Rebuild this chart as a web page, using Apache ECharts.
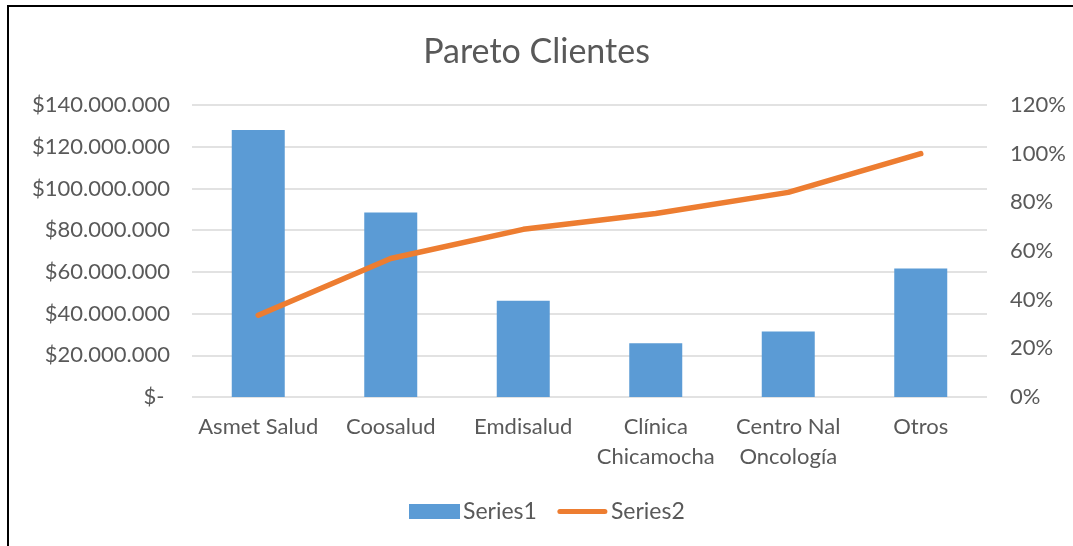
<!DOCTYPE html>
<html>
<head>
<meta charset="utf-8">
<script src="https://cdn.jsdelivr.net/npm/echarts@6/dist/echarts.min.js"></script>
<style>
html,body{margin:0;padding:0;background:#fff;}
#chart{width:1073px;height:546px;position:absolute;left:0;top:0;}
#frame{position:absolute;left:7px;top:5px;width:1080px;height:560px;border-top:2px solid #000;border-left:2px solid #000;pointer-events:none;}
</style>
</head>
<body>
<div id="chart"></div>
<div id="frame"></div>
<script>
var categories = ['Asmet Salud', 'Coosalud', 'Emdisalud', 'Clínica\nChicamocha', 'Centro Nal\nOncología', 'Otros'];
var series1 = [128000000, 88500000, 46100000, 25800000, 31400000, 61600000];
var series2 = [0.336, 0.569, 0.689, 0.754, 0.841, 1.0];
var leftTicks = {min: 0, max: 140000000, interval: 20000000};
var rightTicks = {min: 0, max: 1.2, interval: 0.2};

var FONT = 'Lato';
var TXT = '#595959';

function money(v) {
  if (v === 0) return '$- ';
  return '$' + String(Math.round(v)).replace(/\B(?=(\d{3})+(?!\d))/g, '.');
}

var chart = echarts.init(document.getElementById('chart'), null, {renderer: 'canvas'});
chart.setOption({
  animation: false,
  backgroundColor: '#fff',
  textStyle: {fontFamily: FONT, color: TXT},
  title: {
    text: 'Pareto Clientes',
    left: 'center',
    top: 30,
    textStyle: {fontFamily: FONT, fontSize: 34, fontWeight: 'normal', color: TXT}
  },
  legend: {
    top: 495,
    left: 404,
    itemWidth: 51,
    itemHeight: 15,
    itemGap: 20,
    textStyle: {fontFamily: FONT, fontSize: 23, color: TXT, padding: [0, 0, 0, -2]},
    data: [
      {name: 'Series1', icon: 'rect'},
      {name: 'Series2',
       icon: 'path://M0,0M51,15M3,5L48,5A2.5,2.5 0 0 1 48,10L3,10A2.5,2.5 0 0 1 3,5Z',
       itemStyle: {color: '#ED7D31', borderWidth: 0}}
    ]
  },
  grid: {left: 192, right: 86, top: 105, bottom: 149, containLabel: false},
  xAxis: {
    type: 'category',
    data: categories,
    axisLine: {show: false},
    axisTick: {show: false},
    axisLabel: {fontFamily: FONT, fontSize: 22, color: TXT, margin: 15, lineHeight: 30, interval: 0}
  },
  yAxis: [{
    type: 'value',
    min: leftTicks.min, max: leftTicks.max, interval: leftTicks.interval,
    axisLine: {show: false}, axisTick: {show: false},
    splitLine: {lineStyle: {color: '#d9d9d9', width: 1.5}},
    axisLabel: {fontFamily: FONT, fontSize: 22, color: TXT, margin: 22, formatter: money}
  }, {
    type: 'value',
    min: rightTicks.min, max: rightTicks.max, interval: rightTicks.interval,
    axisLine: {show: false}, axisTick: {show: false},
    splitLine: {show: false},
    axisLabel: {fontFamily: FONT, fontSize: 22, color: TXT, margin: 23, formatter: function (v) { return Math.round(v * 100) + '%'; }}
  }],
  series: [{
    name: 'Series1',
    type: 'bar',
    data: series1,
    barWidth: '40%',
    itemStyle: {color: '#5B9BD5'}
  }, {
    name: 'Series2',
    type: 'line',
    yAxisIndex: 1,
    data: series2,
    symbol: 'none',
    showSymbol: false,
    lineStyle: {color: '#ED7D31', width: 5.5, cap: 'round', join: 'round'},
    itemStyle: {color: '#ED7D31'}
  }]
});
</script>
</body>
</html>
